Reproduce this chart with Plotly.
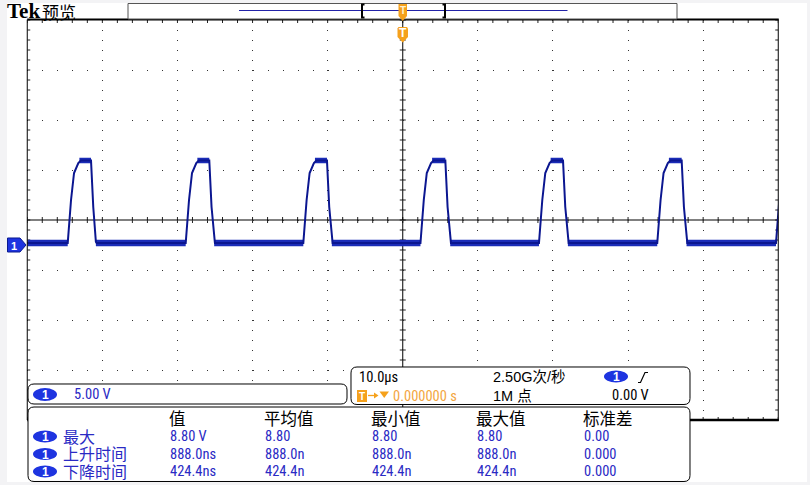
import numpy as np
import plotly.graph_objects as go

W, H = 810, 485
GL, GR, GT, GB = 27.25, 778.25, 20.0, 420.0   # graticule box in pixels

# ---------------- data (time in microseconds, voltage in volts) ----------------
x_range = [-50, 50]          # 10.0 us/div, 10 divisions
y_range = [-17.5, 22.5]      # 5.00 V/div, ground marker 0.5 div below centre

rise_start_us = [-44.61, -28.90, -13.24, 2.36, 18.14, 33.89, 49.70]
fall_start_us = [-41.51, -25.76, -10.09, 5.67, 21.34, 37.14]
rise_dt_us = [0.0, 0.44, 0.84, 1.41, 1.75]
rise_v = [0.2, 4.5, 7.2, 8.2, 8.45]
fall_dt_us = [0.0, 0.30, 0.65]
fall_v = [8.45, 3.8, 0.3]
base_v = 0.2

scale_text = "5.00 V"
timebase_text = "10.0\u00b5s"
trig_pos_text = "0.000000 s"
rate_text = "2.50G次/秒"
points_text = "1M 点"
trig_level_text = "0.00 V"

meas_headers = ["值", "平均值", "最小值", "最大值", "标准差"]
meas_names = ["最大", "上升时间", "下降时间"]
meas_value = ["8.80 V", "888.0ns", "424.4ns"]
meas_mean = ["8.80", "888.0n", "424.4n"]
meas_min = ["8.80", "888.0n", "424.4n"]
meas_max = ["8.80", "888.0n", "424.4n"]
meas_std = ["0.00", "0.000", "0.000"]

# ---------------- build waveform ----------------
wt, wv = [x_range[0]], [base_v]
for i, tr in enumerate(rise_start_us):
    for dt, vv in zip(rise_dt_us, rise_v):
        wt.append(tr + dt); wv.append(vv)
    if i < len(fall_start_us):
        tf = fall_start_us[i]
        for dt, vv in zip(fall_dt_us, fall_v):
            wt.append(tf + dt); wv.append(vv)
        wt.append(tf + fall_dt_us[-1] + 0.1); wv.append(base_v)

# noise-band segments (baseline and top)
bt, bv = [x_range[0], rise_start_us[0], None], [base_v, base_v, None]
tt, tv = [], []
for i, tf in enumerate(fall_start_us):
    bt += [tf + fall_dt_us[-1], rise_start_us[i + 1], None]
    bv += [base_v, base_v, None]
    tt += [rise_start_us[i] + rise_dt_us[-1] - 0.2, tf, None]
    tv += [rise_v[-1], rise_v[-1], None]

BLUE_TR = "#0b1690"
BLUE_BAND = "#1b2cb8"
TXT_BLUE = "#2a2ac4"
ORANGE = "#f5a11c"
BADGE = "#1e34e0"
NUM_FONT = "Liberation Sans Narrow, Roboto Condensed, Liberation Sans, sans-serif"
CJK_FONT = "Noto Sans CJK SC, sans-serif"
MIX_FONT = "Liberation Sans Narrow, Liberation Sans, Noto Sans CJK SC, sans-serif"

fig = go.Figure()
fig.add_trace(go.Scatter(x=bt, y=bv, mode="lines", line=dict(color=BLUE_BAND, width=6.5),
                         hoverinfo="skip", showlegend=False))
fig.add_trace(go.Scatter(x=tt, y=tv, mode="lines", line=dict(color=BLUE_BAND, width=5.5),
                         hoverinfo="skip", showlegend=False))
fig.add_trace(go.Scatter(x=wt, y=wv, mode="lines", line=dict(color=BLUE_TR, width=2),
                         hoverinfo="skip", showlegend=False))


def px(x, y):
    return f"{x / W:.5f},{1 - y / H:.5f}"


def rrect(x0, y0, x1, y1, r):
    return (f"M{px(x0 + r, y0)} L{px(x1 - r, y0)} Q{px(x1, y0)} {px(x1, y0 + r)} "
            f"L{px(x1, y1 - r)} Q{px(x1, y1)} {px(x1 - r, y1)} L{px(x0 + r, y1)} "
            f"Q{px(x0, y1)} {px(x0, y1 - r)} L{px(x0, y0 + r)} Q{px(x0, y0)} {px(x0 + r, y0)} Z")


def poly(pts):
    return "M" + " L".join(px(a, b) for a, b in pts) + " Z"


shapes = []
# page white area
shapes.append(dict(type="rect", xref="paper", yref="paper", x0=7 / W, x1=807 / W,
                   y0=1 - 482 / H, y1=1 - 3 / H, fillcolor="white", line=dict(width=0), layer="below"))

# graticule ticks (border + centre lines)
xs = np.arange(x_range[0], x_range[1] + 0.01, 2.0)
ys = np.arange(y_range[0], y_range[1] + 0.01, 1.0)
hx = 3 / ((GR - GL) / 100.0)
hy = 3 / ((GB - GT) / 40.0)
yc = (y_range[0] + y_range[1]) / 2
p = []
for x in xs:
    p.append(f"M{x:.3f},{y_range[1]:.3f} V{y_range[1] - hy:.3f}")
    p.append(f"M{x:.3f},{y_range[0]:.3f} V{y_range[0] + hy:.3f}")
    p.append(f"M{x:.3f},{yc - hy:.3f} V{yc + hy:.3f}")
for y in ys:
    p.append(f"M{x_range[0]:.3f},{y:.3f} H{x_range[0] + hx:.3f}")
    p.append(f"M{x_range[1]:.3f},{y:.3f} H{x_range[1] - hx:.3f}")
    p.append(f"M{-hx:.3f},{y:.3f} H{hx:.3f}")
shapes.append(dict(type="path", xref="x", yref="y", path=" ".join(p),
                   line=dict(color="#222", width=1), layer="below"))
# centre cross lines
shapes.append(dict(type="line", xref="x", yref="y", x0=x_range[0], x1=x_range[1], y0=yc, y1=yc,
                   line=dict(color="black", width=1), layer="below"))
shapes.append(dict(type="line", xref="x", yref="y", x0=0, x1=0, y0=y_range[0], y1=y_range[1],
                   line=dict(color="black", width=1), layer="below"))

# graticule border
def pline(x0, y0, x1, y1, color="black", width=1):
    shapes.append(dict(type="line", xref="paper", yref="paper", x0=x0 / W, x1=x1 / W,
                       y0=1 - y0 / H, y1=1 - y1 / H, line=dict(color=color, width=width), layer="above"))

pline(GL, GT - 0.5, GL, GB)
pline(GR, GT - 0.5, GR, GB + 1)
pline(GL, GT - 0.5, GR + 0.5, GT - 0.5, width=2)
pline(GL, GB, GR + 0.5, GB, width=2.5)

# top record bar
shapes.append(dict(type="rect", xref="paper", yref="paper", x0=128 / W, x1=677 / W,
                   y0=1 - 19 / H, y1=1 - 3.5 / H, fillcolor="white", line=dict(color="#555", width=1),
                   layer="above"))
pline(239, 10.5, 567.5, 10.5, color="#2222a8", width=1)
shapes.append(dict(type="path", xref="paper", yref="paper",
                   path=f"M{px(364.5, 4.5)} L{px(362, 4.5)} L{px(362, 17.5)} L{px(364.5, 17.5)}",
                   line=dict(color="black", width=2), layer="above"))
shapes.append(dict(type="path", xref="paper", yref="paper",
                   path=f"M{px(442.5, 4.5)} L{px(445, 4.5)} L{px(445, 17.5)} L{px(442.5, 17.5)}",
                   line=dict(color="black", width=2), layer="above"))
# trigger markers
shapes.append(dict(type="path", xref="paper", yref="paper",
                   path=poly([(398.5, 4), (407, 4), (407, 16), (402.75, 21), (398.5, 16)]),
                   fillcolor=ORANGE, line=dict(width=0), layer="above"))
shapes.append(dict(type="path", xref="paper", yref="paper",
                   path=poly([(397.5, 28.5), (398.5, 27), (407, 27), (408, 28.5), (408, 37),
                              (402.75, 42.5), (397.5, 37)]),
                   fillcolor=ORANGE, line=dict(width=0), layer="above"))
# channel 1 ground marker
shapes.append(dict(type="path", xref="paper", yref="paper",
                   path=poly([(7.5, 238), (20, 238), (26, 245), (20, 252), (7.5, 252)]),
                   fillcolor=BADGE, line=dict(color="#0a1a90", width=1), layer="above"))

# panels
for (x0, y0, x1, y1) in [(28, 384, 347, 404), (351, 367, 690, 404.5), (28, 407, 690, 481.5)]:
    shapes.append(dict(type="path", xref="paper", yref="paper", path=rrect(x0, y0, x1, y1, 6),
                       fillcolor="white", line=dict(color="black", width=1), layer="above"))

annotations = []


def txt(x, y, s, color="black", size=14, family=NUM_FONT, xanchor="left", bold=False):
    if bold:
        s = f"<b>{s}</b>"
    annotations.append(dict(x=x / W, y=1 - y / H, xref="paper", yref="paper", text=s, showarrow=False,
                            xanchor=xanchor, yanchor="middle", font=dict(color=color, size=size, family=family)))


def badge(cx, cy, w=24, h=13):
    shapes.append(dict(type="circle", xref="paper", yref="paper", x0=(cx - w / 2) / W, x1=(cx + w / 2) / W,
                       y0=1 - (cy + h / 2) / H, y1=1 - (cy - h / 2) / H, fillcolor=BADGE,
                       line=dict(width=0), layer="above"))
    txt(cx, cy + 0.5, "1", color="white", size=12, family="Liberation Sans, sans-serif",
        xanchor="center", bold=True)


txt(5, 11, "Tek", size=21, family="Liberation Serif, serif", bold=True)
txt(40, 11.5, "预览", size=17, family=CJK_FONT)
txt(402.75, 10, "T", color="#fff2d0", size=10, family="Liberation Sans", xanchor="center", bold=True)
txt(402.75, 33, "T", color="white", size=12, family="Liberation Sans", xanchor="center", bold=True)
txt(13.5, 245.5, "1", color="white", size=11, family="Liberation Sans", xanchor="center", bold=True)

# panel A
badge(45, 394.5)
txt(72, 394.5, scale_text, color=TXT_BLUE, size=14.5)

# panel B
txt(357, 377, timebase_text, size=14.5)
shapes.append(dict(type="rect", xref="paper", yref="paper", x0=357 / W, x1=367 / W,
                   y0=1 - 402 / H, y1=1 - 390 / H, fillcolor=ORANGE, line=dict(width=0), layer="above"))
txt(362, 396.5, "T", color="white", size=10, family="Liberation Sans", xanchor="center", bold=True)
pline(368, 395.5, 376, 395.5, color=ORANGE, width=1.3)
shapes.append(dict(type="path", xref="paper", yref="paper", path=poly([(374, 392.5), (378.5, 395.5), (374, 398.5)]),
                   fillcolor=ORANGE, line=dict(width=0), layer="above"))
shapes.append(dict(type="path", xref="paper", yref="paper", path=poly([(379.5, 391.5), (389, 391.5), (384.25, 398)]),
                   fillcolor=ORANGE, line=dict(width=0), layer="above"))
txt(391, 396, trig_pos_text, color="#f3a642", size=14.5)
txt(491, 377, rate_text, size=14.5, family=MIX_FONT)
txt(491, 395.5, points_text, size=14.5, family=MIX_FONT)
badge(616, 376.5, 24, 12)
shapes.append(dict(type="path", xref="paper", yref="paper",
                   path=f"M{px(638, 382.5)} L{px(640.5, 382.5)} L{px(645, 372.5)} L{px(648, 372.5)}",
                   line=dict(color="black", width=1.2), layer="above"))
txt(610, 395.5, trig_level_text, size=14.5)

# panel C
col_x = [168, 263, 370, 475, 582]
for cx, hdr in zip(col_x, meas_headers):
    txt(cx - 1, 417.5, hdr, size=16.5, family=CJK_FONT)
row_y = [436.5, 454, 471.5]
for ry, name, a, b, c, d, e in zip(row_y, meas_names, meas_value, meas_mean, meas_min, meas_max, meas_std):
    badge(45, ry, 24, 12)
    txt(61, ry - 1, name, color=TXT_BLUE, size=16, family=CJK_FONT)
    for cx, s in zip(col_x, [a, b, c, d, e]):
        txt(cx, ry, s, color=TXT_BLUE, size=14.5)

fig.update_layout(
    width=W, height=H, margin=dict(l=0, r=0, t=0, b=0),
    paper_bgcolor="#f3f3f5", plot_bgcolor="white",
    shapes=shapes, annotations=annotations, showlegend=False,
    xaxis=dict(domain=[GL / W, GR / W], range=x_range, showgrid=True, dtick=10, tick0=-50,
               gridcolor="#333", gridwidth=1, griddash="1px,9px", zeroline=False,
               showticklabels=False, ticks="", showline=False, fixedrange=True),
    yaxis=dict(domain=[1 - GB / H, 1 - GT / H], range=y_range, showgrid=True, dtick=5, tick0=-17.5,
               gridcolor="#333", gridwidth=1, griddash="1px,14.02px", zeroline=False,
               showticklabels=False, ticks="", showline=False, fixedrange=True),
)

fig.write_html("out.html", config={"displayModeBar": False},
               post_script="document.body.style.margin='0';")
